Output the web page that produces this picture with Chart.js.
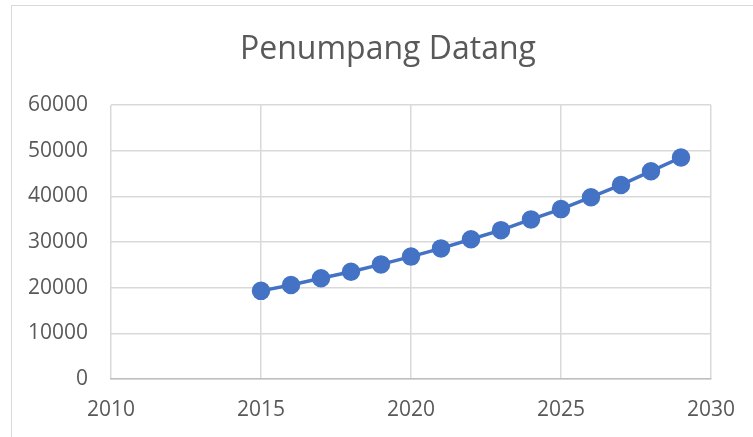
<!DOCTYPE html>
<html>
<head>
<meta charset="utf-8">
<script src="https://cdn.jsdelivr.net/npm/chart.js@4/dist/chart.umd.min.js"></script>
<style>
  html, body { margin: 0; padding: 0; background: #fff; }
  #wrap { width: 753px; height: 437px; }
</style>
</head>
<body>
<div id="wrap"><canvas id="penumpangChart" width="753" height="437"></canvas></div>
<script>
// Data penumpang datang per tahun
const tahun = [2015, 2016, 2017, 2018, 2019, 2020, 2021, 2022, 2023, 2024, 2025, 2026, 2027, 2028, 2029];
const penumpang = [19300, 20600, 22050, 23500, 25100, 26800, 28600, 30600, 32600, 34950, 37200, 39800, 42500, 45500, 48500];
const judul = 'Penumpang Datang';

const biru = '#4472C4';
const abu = '#595959';

// bingkai tipis di sekitar grafik, seperti di Excel
const bingkai = {
    id: 'bingkai',
    afterLayout(chart) {
        // geser judul sedikit ke kanan seperti aslinya
        const t = chart.titleBlock;
        if (t) { t.left = 64; t.right = 712; t.width = 648; }
    },
    beforeDraw(chart) {
        const c = chart.ctx;
        c.save();
        c.fillStyle = '#fff';
        c.fillRect(0, 0, chart.width, chart.height);
        c.strokeStyle = '#d9d9d9';
        c.lineWidth = 1;
        c.strokeRect(11.5, 5.5, chart.width + 10, chart.height + 10);
        c.restore();
    }
};

const titik = tahun.map((t, i) => ({ x: t, y: penumpang[i] }));

const config = {
    type: 'scatter',
    data: {
        datasets: [{
            label: judul,
            data: titik,
            showLine: true,
            borderColor: biru,
            backgroundColor: biru,
            borderWidth: 3.5,
            pointRadius: 7.5,
            pointHoverRadius: 7.5
        }]
    },
    options: {
        responsive: false,
        animation: false,
        layout: { padding: { left: 0, right: 41, top: 0, bottom: 0 } },
        plugins: {
            legend: { display: false },
            tooltip: { enabled: false },
            title: {
                display: true,
                text: judul,
                color: abu,
                font: { family: 'Open Sans', size: 32, weight: 'normal', lineHeight: 1.2 },
                padding: { top: 31, bottom: 35.6 }
            }
        },
        scales: {
            x: {
                type: 'linear',
                min: 2010,
                max: 2030,
                ticks: {
                    stepSize: 5,
                    color: abu,
                    font: { family: 'Open Sans', size: 21 },
                    padding: 18,
                    callback: v => String(v)
                },
                grid: { color: '#d9d9d9', lineWidth: 1.5, drawTicks: false },
                border: { color: '#bfbfbf', width: 1.5 },
                afterFit(scale) { scale.height = 58; }
            },
            y: {
                min: 0,
                max: 60000,
                ticks: {
                    stepSize: 10000,
                    color: abu,
                    font: { family: 'Open Sans', size: 21 },
                    padding: 23,
                    callback: v => String(v)
                },
                grid: { color: '#d9d9d9', lineWidth: 1.5, drawTicks: false },
                border: { display: false },
                afterFit(scale) { scale.width = 111; }
            }
        }
    },
    plugins: [bingkai]
};

const ctx = document.getElementById('penumpangChart').getContext('2d');
new Chart(ctx, config);
</script>
</body>
</html>
